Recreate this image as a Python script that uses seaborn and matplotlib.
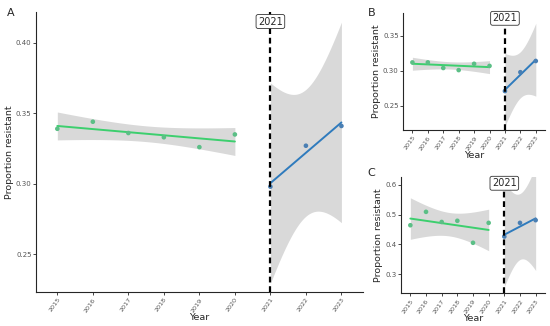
import numpy as np
import pandas as pd
import matplotlib
matplotlib.use("Agg")
import matplotlib.pyplot as plt
import seaborn as sns

years_pre = [2015, 2016, 2017, 2018, 2019, 2020]
years_post = [2021, 2022, 2023]

a_pre = [0.339, 0.344, 0.336, 0.333, 0.326, 0.335]
a_post = [0.298, 0.327, 0.341]
b_pre = [0.312, 0.312, 0.304, 0.301, 0.310, 0.307]
b_post = [0.271, 0.298, 0.314]
c_pre = [0.464, 0.509, 0.475, 0.479, 0.405, 0.472]
c_post = [0.426, 0.472, 0.481]

all_years = years_pre + years_post
green_pt = "#5bbf86"
green_ln = "#3ccf6e"
blue_pt = "#4a7fb3"
blue_ln = "#2f7bbd"
band = "#d9d9d9"

# t quantiles (0.975) for the residual degrees of freedom
T975 = {1: 12.706, 4: 2.776}


def lm_band(x, y):
    x = np.asarray(x, float)
    y = np.asarray(y, float)
    n = len(x)
    b, a = np.polyfit(x, y, 1)
    res = y - (a + b * x)
    s = np.sqrt((res ** 2).sum() / (n - 2))
    sxx = ((x - x.mean()) ** 2).sum()
    grid = np.linspace(x.min(), x.max(), 80)
    fit = a + b * grid
    se = s * np.sqrt(1 / n + (grid - x.mean()) ** 2 / sxx)
    t = T975[n - 2]
    return grid, fit, fit - t * se, fit + t * se


def panel(ax, pre, post, ylim, yticks, yfmt, lab_y, fs):
    for yrs, vals, pc, lc in [(years_pre, pre, green_pt, green_ln),
                              (years_post, post, blue_pt, blue_ln)]:
        g, f, lo, hi = lm_band(yrs, vals)
        ax.fill_between(g, lo, hi, color=band, lw=0, zorder=1)
        sns.lineplot(x=g, y=f, color=lc, lw=1.4, ax=ax, zorder=3)
        df = pd.DataFrame({"Year": yrs, "val": vals})
        sns.scatterplot(data=df, x="Year", y="val", color=pc, s=11,
                        edgecolor="none", ax=ax, zorder=4)
    ax.axvline(2021, color="black", lw=1.6, ls=(0, (2.6, 1.7)), zorder=5)
    ax.text(2021, lab_y, "2021", ha="center", va="center", fontsize=fs,
            zorder=6,
            bbox=dict(boxstyle="round,pad=0.2,rounding_size=0.2",
                      fc="white", ec="#333333", lw=0.6))
    ax.set_xlim(2014.4, 2023.6)
    ax.set_ylim(*ylim)
    ax.set_xticks(all_years)
    ax.set_xticklabels([str(y) for y in all_years], rotation=55,
                       ha="right", rotation_mode="anchor",
                       fontsize=4.6, color="#555555")
    ax.set_yticks(yticks)
    ax.set_yticklabels([yfmt.format(v) for v in yticks], fontsize=5,
                       color="#555555")
    ax.set_xlabel("Year", fontsize=6.8, labelpad=0)
    ax.set_ylabel("Proportion resistant", fontsize=6.8, labelpad=1.5)
    ax.tick_params(length=2, width=0.6, pad=1.2)
    ax.tick_params(axis="x", pad=1.5)
    for sp in ["left", "bottom"]:
        ax.spines[sp].set_linewidth(0.8)
    sns.despine(ax=ax)


sns.set_theme(style="ticks")
plt.rcParams["font.family"] = ["DejaVu Sans"]

fig = plt.figure(figsize=(5.5, 3.26), dpi=100)
axA = fig.add_axes([0.0655, 0.104, 0.594, 0.859])
axB = fig.add_axes([0.733, 0.601, 0.258, 0.360])
axC = fig.add_axes([0.729, 0.100, 0.262, 0.357])

panel(axA, a_pre, a_post, (0.2233, 0.4217), [0.25, 0.30, 0.35, 0.40],
      "{:.2f}", 0.415, 7)
panel(axB, b_pre, b_post, (0.2153, 0.383), [0.25, 0.30, 0.35],
      "{:.2f}", 0.375, 7)
panel(axC, c_pre, c_post, (0.235, 0.626), [0.3, 0.4, 0.5, 0.6],
      "{:.1f}", 0.605, 7)

fig.text(0.012, 0.975, "A", fontsize=8, va="top")
fig.text(0.668, 0.975, "B", fontsize=8, va="top")
fig.text(0.668, 0.485, "C", fontsize=8, va="top")

fig.savefig("out.png", dpi=100)
